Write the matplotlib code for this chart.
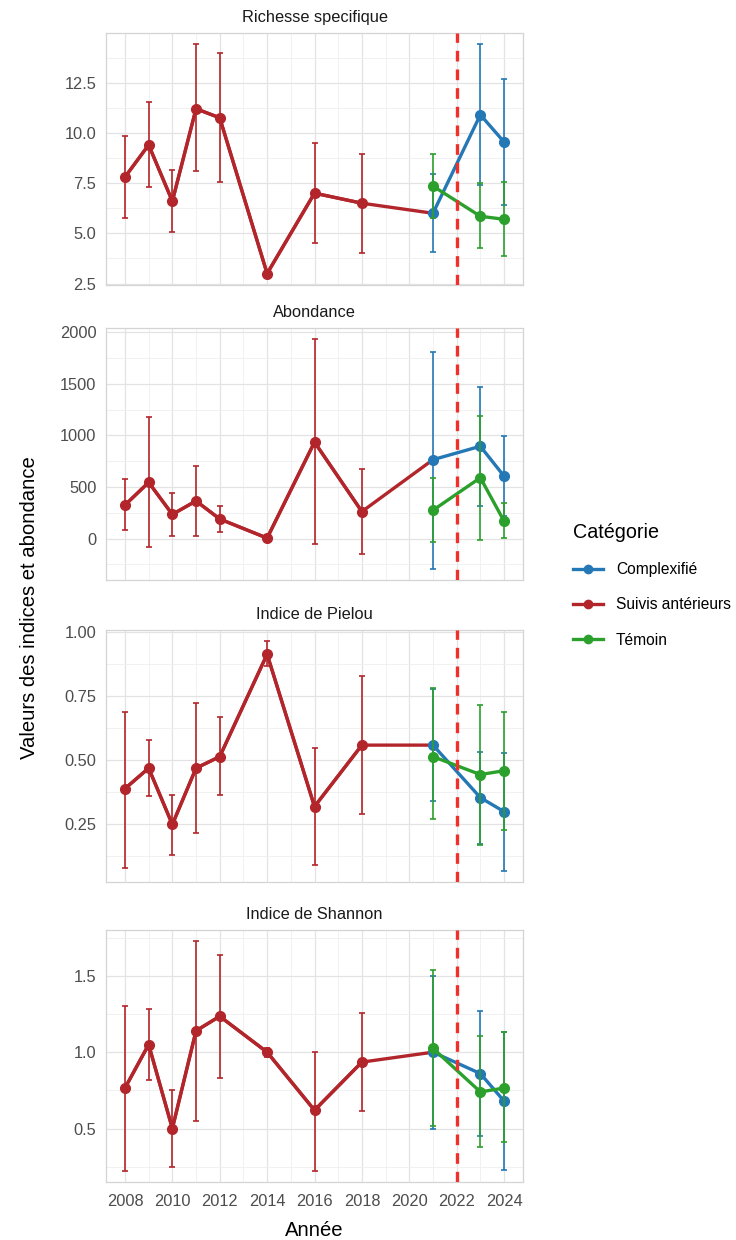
import matplotlib
matplotlib.use("Agg")
import matplotlib.pyplot as plt
from matplotlib.lines import Line2D
from matplotlib.ticker import MultipleLocator, FixedLocator

plt.rcParams['font.family'] = ['Liberation Sans', 'DejaVu Sans']

# ---------------- data ----------------
years_suivis = [2008, 2009, 2010, 2011, 2012, 2014, 2016, 2018]
years_new = [2021, 2023, 2024]
cut_year = 2022

categories = ["Complexifié", "Suivis antérieurs", "Témoin"]
panel_titles = ["Richesse specifique", "Abondance", "Indice de Pielou", "Indice de Shannon"]

# Richesse specifique
rich_suivis = [7.8, 9.4, 6.6, 11.2, 10.75, 3.0, 7.0, 6.5]
rich_suivis_lo = [5.75, 7.3, 5.05, 8.1, 7.55, 3.0, 4.5, 4.0]
rich_suivis_hi = [9.85, 11.55, 8.15, 14.4, 13.95, 3.0, 9.5, 8.95]
rich_comp = [6.0, 10.9, 9.55]
rich_comp_lo = [4.05, 7.4, 6.4]
rich_comp_hi = [7.95, 14.4, 12.7]
rich_tem = [7.35, 5.85, 5.7]
rich_tem_lo = [5.75, 4.25, 3.85]
rich_tem_hi = [8.95, 7.5, 7.55]

# Abondance
abon_suivis = [325, 545, 235, 365, 190, 5, 935, 262]
abon_suivis_lo = [80, -80, 25, 30, 62, 5, -55, -150]
abon_suivis_hi = [580, 1175, 445, 700, 320, 5, 1930, 670]
abon_comp = [765, 895, 605]
abon_comp_lo = [-290, 320, 220]
abon_comp_hi = [1810, 1470, 990]
abon_tem = [275, 590, 170]
abon_tem_lo = [-35, -10, 10]
abon_tem_hi = [590, 1190, 345]

# Indice de Pielou
piel_suivis = [0.39, 0.47, 0.25, 0.47, 0.515, 0.915, 0.32, 0.56]
piel_suivis_lo = [0.08, 0.36, 0.13, 0.215, 0.365, 0.87, 0.09, 0.29]
piel_suivis_hi = [0.69, 0.58, 0.365, 0.725, 0.67, 0.965, 0.55, 0.83]
piel_comp = [0.56, 0.355, 0.30]
piel_comp_lo = [0.34, 0.175, 0.07]
piel_comp_hi = [0.78, 0.535, 0.53]
piel_tem = [0.515, 0.445, 0.46]
piel_tem_lo = [0.27, 0.17, 0.23]
piel_tem_hi = [0.785, 0.715, 0.69]

# Indice de Shannon
shan_suivis = [0.765, 1.05, 0.50, 1.14, 1.235, 1.0, 0.62, 0.935]
shan_suivis_lo = [0.225, 0.82, 0.245, 0.55, 0.83, 0.97, 0.225, 0.615]
shan_suivis_hi = [1.30, 1.28, 0.75, 1.725, 1.635, 1.03, 1.0, 1.255]
shan_comp = [1.0, 0.86, 0.68]
shan_comp_lo = [0.5, 0.45, 0.23]
shan_comp_hi = [1.5, 1.27, 1.13]
shan_tem = [1.025, 0.74, 0.765]
shan_tem_lo = [0.515, 0.38, 0.415]
shan_tem_hi = [1.535, 1.105, 1.13]

x_ticks = [2008, 2010, 2012, 2014, 2016, 2018, 2020, 2022, 2024]
y_ticks = [
    [2.5, 5.0, 7.5, 10.0, 12.5],
    [0, 500, 1000, 1500, 2000],
    [0.25, 0.50, 0.75, 1.00],
    [0.5, 1.0, 1.5],
]
y_ticklabels = [
    ["2.5", "5.0", "7.5", "10.0", "12.5"],
    ["0", "500", "1000", "1500", "2000"],
    ["0.25", "0.50", "0.75", "1.00"],
    ["0.5", "1.0", "1.5"],
]

panels = [
    (rich_suivis, rich_suivis_lo, rich_suivis_hi, rich_comp, rich_comp_lo, rich_comp_hi, rich_tem, rich_tem_lo, rich_tem_hi),
    (abon_suivis, abon_suivis_lo, abon_suivis_hi, abon_comp, abon_comp_lo, abon_comp_hi, abon_tem, abon_tem_lo, abon_tem_hi),
    (piel_suivis, piel_suivis_lo, piel_suivis_hi, piel_comp, piel_comp_lo, piel_comp_hi, piel_tem, piel_tem_lo, piel_tem_hi),
    (shan_suivis, shan_suivis_lo, shan_suivis_hi, shan_comp, shan_comp_lo, shan_comp_hi, shan_tem, shan_tem_lo, shan_tem_hi),
]

# ---------------- style ----------------
col_comp = "#2378B5"
col_suiv = "#B2262B"
col_tem = "#2CA02C"
col_cut = "#F0302A"

W, H = 736, 1240
fig = plt.figure(figsize=(W / 100, H / 100), dpi=100)

left_px, right_px = 106, 523
panel_tops = [33, 328, 630, 930]
panel_h = 252

tick_fs = 11.8
legend_fs = 11.2
title_fs = 14.6


def draw_series(ax, xs, ys, lo, hi, color, lw=2.4, z=3):
    yerr = [[y - l for y, l in zip(ys, lo)], [h - y for y, h in zip(ys, hi)]]
    ax.errorbar(xs, ys, yerr=yerr, fmt='none', ecolor=color, elinewidth=1.2,
                capsize=2.0, capthick=1.2, zorder=z)
    ax.plot(xs, ys, color=color, lw=lw, solid_capstyle='round',
            solid_joinstyle='round', zorder=z + 0.1)
    ax.plot(xs, ys, 'o', color=color, ms=7, mec=color, zorder=z + 0.2)


axes = []
for i, (title, data) in enumerate(zip(panel_titles, panels)):
    top = panel_tops[i]
    ax = fig.add_axes([left_px / W, 1 - (top + panel_h) / H,
                       (right_px - left_px) / W, panel_h / H])
    axes.append(ax)
    (s, slo, shi, c, clo, chi, t, tlo, thi) = data

    # suivis antérieurs: line continues to first 2021 value
    ax.plot(years_suivis + [years_new[0]], s + [c[0]], color=col_suiv, lw=2.4,
            solid_joinstyle='round', zorder=3.1)
    draw_series(ax, years_suivis, s, slo, shi, col_suiv, z=3)
    draw_series(ax, years_new, c, clo, chi, col_comp, z=4)
    draw_series(ax, years_new, t, tlo, thi, col_tem, z=5)

    ax.axvline(cut_year, color=col_cut, lw=2.4, ls=(0, (3.2, 2.4)), zorder=6)

    ax.margins(x=0.05, y=0.05)
    ax.set_xlim(2008 - 0.8, 2024 + 0.8)

    ax.xaxis.set_major_locator(FixedLocator(x_ticks))
    ax.xaxis.set_minor_locator(MultipleLocator(1))
    ax.yaxis.set_major_locator(FixedLocator(y_ticks[i]))
    step = y_ticks[i][1] - y_ticks[i][0]
    ax.yaxis.set_minor_locator(MultipleLocator(step / 2))
    ax.set_yticks(y_ticks[i])
    ax.set_yticklabels(y_ticklabels[i])

    ax.grid(which='major', color='#E3E3E3', lw=0.9, zorder=0)
    ax.grid(which='minor', color='#EFEFEF', lw=0.6, zorder=0)
    ax.set_axisbelow(True)
    for sp in ax.spines.values():
        sp.set_color('#D4D4D4')
        sp.set_linewidth(0.9)
    ax.tick_params(which='both', length=0)
    ax.tick_params(axis='y', labelsize=tick_fs, labelcolor='#4D4D4D', pad=7)
    ax.tick_params(axis='x', labelsize=tick_fs, labelcolor='#4D4D4D', pad=9)
    if i < 3:
        ax.tick_params(axis='x', labelbottom=False)

    ax.annotate(title, xy=(0.5, 1.0), xycoords='axes fraction',
                xytext=(0, 11), textcoords='offset points',
                ha='center', va='center', fontsize=tick_fs, color='#1A1A1A')

axes[-1].set_xlabel("Année", fontsize=title_fs, labelpad=8, color='black')

fig.text(30 / W, 1 - 608 / H, "Valeurs des indices et abondance",
         rotation=90, ha='center', va='center', fontsize=title_fs, color='black')

handles = [
    Line2D([0], [0], color=col_comp, lw=2.4, marker='o', ms=6),
    Line2D([0], [0], color=col_suiv, lw=2.4, marker='o', ms=6),
    Line2D([0], [0], color=col_tem, lw=2.4, marker='o', ms=6),
]
leg = fig.legend(handles, categories, title="Catégorie",
                 loc='upper left', bbox_to_anchor=(573 / W, 1 - 523 / H),
                 frameon=False, fontsize=legend_fs, title_fontsize=14.2,
                 handlelength=1.9, handletextpad=0.85, labelspacing=1.3,
                 alignment='left', borderaxespad=0, borderpad=0)

fig.savefig("out.png", dpi=100, facecolor='white')
